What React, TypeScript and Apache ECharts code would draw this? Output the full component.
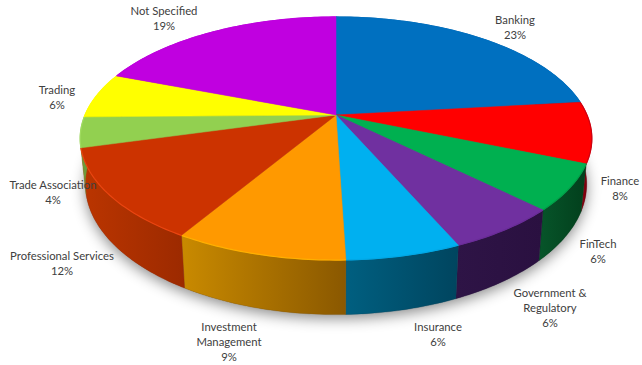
import React, { useEffect, useRef } from "react";
import * as echarts from "echarts";

// Sector names (line breaks as set in the labels) and their percentages.
const sectors = [
  "Banking",
  "Finance",
  "FinTech",
  "Government &\nRegulatory",
  "Insurance",
  "Investment\nManagement",
  "Professional Services",
  "Trade Association",
  "Trading",
  "Not Specified",
];
const shares = [23, 8, 6, 6, 6, 9, 12, 4, 6, 19];

const topColors = ["#0070c0", "#ff0000", "#00b050", "#7030a0", "#00b0f0", "#ff9900", "#cc3300", "#92d050", "#ffff00", "#c000e0"];
const sideLeft = ["#00386a", "#9a0010", "#07552a", "#2e1446", "#005f80", "#c98a00", "#bb3500", "#6d9a3a", "#b0b000", "#700080"];
const sideRight = ["#002a50", "#6e000c", "#023f1c", "#2a1040", "#00455f", "#8a5800", "#9c2a00", "#6d9a3a", "#b0b000", "#700080"];
const rimColors = ["#0070c0", "#d00010", "#00a048", "#6a2c98", "#00a8e6", "#ffb000", "#ea4510", "#a0dc60", "#ffff00", "#c000e0"];

// Where each label is centred on the page.
const labelCentres = [
  [515, 27], [620, 188], [598, 251], [550, 307], [438, 334],
  [229, 341], [62, 263], [53, 192], [57, 97], [164, 18],
];

// Perspective view of the disc: apex, radius, foreshortening, viewer distance, thickness.
const apexX = 336;
const apexY = 115;
const radius = 251;
const depth = 117;
const viewer = 5.17;
const thickness = 44;
const lowerTaper = 0.98;
const total = shares.reduce((a, b) => a + b, 0);

function project(turn: number, drop = 0): number[] {
  const a = turn * Math.PI * 2;
  const u = Math.sin(a);
  const v = -Math.cos(a);
  const s = viewer / (viewer - v);
  const taper = drop > 0 ? lowerTaper : 1;
  return [apexX + radius * u * s * taper, apexY + depth * v * s + drop * s];
}

function rim(from: number, to: number, drop = 0): number[][] {
  const steps = Math.max(2, Math.ceil((to - from) * 360));
  const pts: number[][] = [];
  for (let i = 0; i <= steps; i++) pts.push(project(from + ((to - from) * i) / steps, drop));
  return pts;
}

function bounds(i: number): [number, number] {
  let sum = 0;
  for (let k = 0; k < i; k++) sum += shares[k];
  return [sum / total, (sum + shares[i]) / total];
}

export default function App() {
  const ref = useRef<HTMLDivElement>(null);
  useEffect(() => {
    const chart = echarts.init(ref.current!, undefined, { renderer: "svg" });
    chart.setOption({
      animation: false,
      backgroundColor: "#ffffff",
      graphic: sectors.map((name, i) => ({
        type: "text",
        z: 100,
        silent: true,
        style: {
          text: `${name}\n${shares[i]}%`,
          x: labelCentres[i][0],
          y: labelCentres[i][1],
          textAlign: "center",
          textVerticalAlign: "middle",
          fontFamily: "Lato",
          fontSize: 11.3,
          lineHeight: 15,
          fill: "#404040",
        },
      })),
      series: [
        {
          // Soft drop shadow under the whole disc
          type: "custom",
          coordinateSystem: "none",
          silent: true,
          z: 1,
          data: [1],
          renderItem: () => ({
            type: "polygon",
            shape: { points: rim(0, 1, thickness) },
            style: {
              fill: "#777777",
              shadowColor: "rgba(0,0,0,0.45)",
              shadowBlur: 14,
              shadowOffsetY: 4,
            },
          }),
        },
        {
          // Outer wall of each slice, shaded left to right
          type: "custom",
          coordinateSystem: "none",
          silent: true,
          z: 2,
          data: shares,
          renderItem: (params: any) => {
            const i = params.dataIndex;
            const [from, to] = bounds(i);
            return {
              type: "polygon",
              shape: { points: [...rim(from, to), ...rim(from, to, thickness).reverse()] },
              style: {
                fill: new echarts.graphic.LinearGradient(0, 0, 1, 0, [
                  { offset: 0, color: sideLeft[i] },
                  { offset: 1, color: sideRight[i] },
                ]),
                stroke: sideRight[i],
                lineWidth: 0.3,
              },
            };
          },
        },
        {
          // Top face of each slice with a bevel highlight along its rim
          type: "custom",
          coordinateSystem: "none",
          silent: true,
          z: 3,
          data: shares,
          renderItem: (params: any) => {
            const i = params.dataIndex;
            const [from, to] = bounds(i);
            return {
              type: "group",
              children: [
                {
                  type: "polygon",
                  shape: { points: [[apexX, apexY], ...rim(from, to)] },
                  style: { fill: topColors[i], stroke: topColors[i], lineWidth: 0.5 },
                },
                {
                  type: "polyline",
                  shape: { points: rim(from, to) },
                  style: { fill: "none", stroke: rimColors[i], lineWidth: 1.2 },
                },
              ],
            };
          },
        },
      ],
    });
    return () => chart.dispose();
  }, []);
  return <div ref={ref} style={{ position: "absolute", left: 0, top: 0, width: 642, height: 365 }} />;
}
